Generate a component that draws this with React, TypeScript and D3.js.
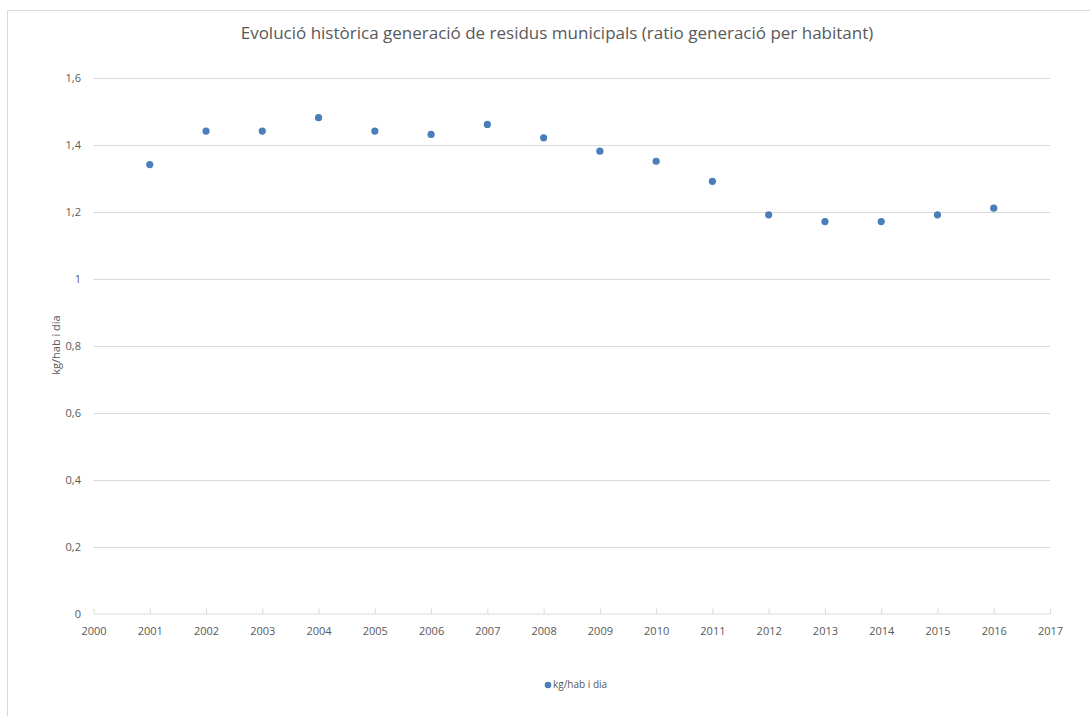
import * as d3 from "d3";
import React, { useEffect, useRef } from "react";

const years = [2001, 2002, 2003, 2004, 2005, 2006, 2007, 2008, 2009, 2010, 2011, 2012, 2013, 2014, 2015, 2016];
const ratio = [1.34, 1.44, 1.44, 1.48, 1.44, 1.43, 1.46, 1.42, 1.38, 1.35, 1.29, 1.19, 1.17, 1.17, 1.19, 1.21];
const yTicks = [0, 0.2, 0.4, 0.6, 0.8, 1, 1.2, 1.4, 1.6];
const xTicks = d3.range(2000, 2018);
const title = "Evolució històrica generació de residus municipals (ratio generació per habitant)";
const seriesName = "kg/hab i dia";

const font = "'Open Sans', 'Noto Sans', sans-serif";
const textColor = "#595959";
const blue = "#4a7ebb";

const App: React.FC = () => {
  const svgRef = useRef<SVGSVGElement>(null);

  useEffect(() => {
    const svg = d3.select(svgRef.current);
    svg.selectAll("*").remove();

    // chart frame
    svg
      .append("rect")
      .attr("x", 7.5)
      .attr("y", 10.5)
      .attr("width", 1200)
      .attr("height", 800)
      .attr("fill", "#fff")
      .attr("stroke", "#d9d9d9");

    const x = d3.scaleLinear().domain([2000, 2017]).range([93.5, 1050]);
    const y = d3.scaleLinear().domain([0, 1.6]).range([613.5, 77.5]);

    // gridlines
    svg
      .append("g")
      .selectAll("line")
      .data(yTicks.filter((d) => d > 0))
      .join("line")
      .attr("x1", x(2000))
      .attr("x2", x(2017))
      .attr("y1", (d) => Math.round(y(d)) + 0.5)
      .attr("y2", (d) => Math.round(y(d)) + 0.5)
      .attr("stroke", "#d9d9d9");

    // y tick labels
    svg
      .append("g")
      .selectAll("text")
      .data(yTicks)
      .join("text")
      .attr("x", 81)
      .attr("y", (d) => y(d) + 4)
      .attr("text-anchor", "end")
      .attr("font-family", font)
      .attr("font-size", 11)
      .attr("fill", textColor)
      .text((d) => d3.format("")(d).replace(".", ","));

    // x axis
    const xAxis = svg
      .append("g")
      .attr("transform", `translate(0, ${Math.round(y(0)) - 0.5})`)
      .call(
        d3
          .axisBottom(x)
          .tickValues(xTicks)
          .tickFormat((d) => String(d))
          .tickSizeInner(-5)
          .tickSizeOuter(0)
          .tickPadding(14)
      );
    xAxis.select(".domain").attr("stroke", "#d9d9d9");
    xAxis.selectAll(".tick line").attr("stroke", "#d9d9d9");
    xAxis
      .selectAll(".tick text")
      .attr("font-family", font)
      .attr("font-size", 11)
      .attr("fill", textColor);

    // points
    svg
      .append("g")
      .selectAll("circle")
      .data(years.map((yr, i) => ({ yr, v: ratio[i] })))
      .join("circle")
      .attr("cx", (d) => x(d.yr))
      .attr("cy", (d) => y(d.v))
      .attr("r", 3.6)
      .attr("fill", blue);

    // title
    svg
      .append("text")
      .attr("x", 557)
      .attr("y", 39)
      .attr("text-anchor", "middle")
      .attr("font-family", font)
      .attr("font-size", 17)
      .attr("fill", textColor)
      .text(title);

    // y axis label
    svg
      .append("text")
      .attr("transform", `translate(60, 345) rotate(-90)`)
      .attr("text-anchor", "middle")
      .attr("font-family", font)
      .attr("font-size", 11)
      .attr("fill", textColor)
      .text(seriesName);

    // legend
    svg
      .append("circle")
      .attr("cx", 548)
      .attr("cy", 685)
      .attr("r", 3.3)
      .attr("fill", blue);
    svg
      .append("text")
      .attr("x", 553)
      .attr("y", 688)
      .attr("font-family", font)
      .attr("font-size", 10)
      .attr("fill", textColor)
      .text(seriesName);
  }, []);

  return (
    <svg
      ref={svgRef}
      width={1090}
      height={716}
      style={{ position: "absolute", left: 0, top: 0, background: "#fff" }}
    />
  );
};

export default App;
